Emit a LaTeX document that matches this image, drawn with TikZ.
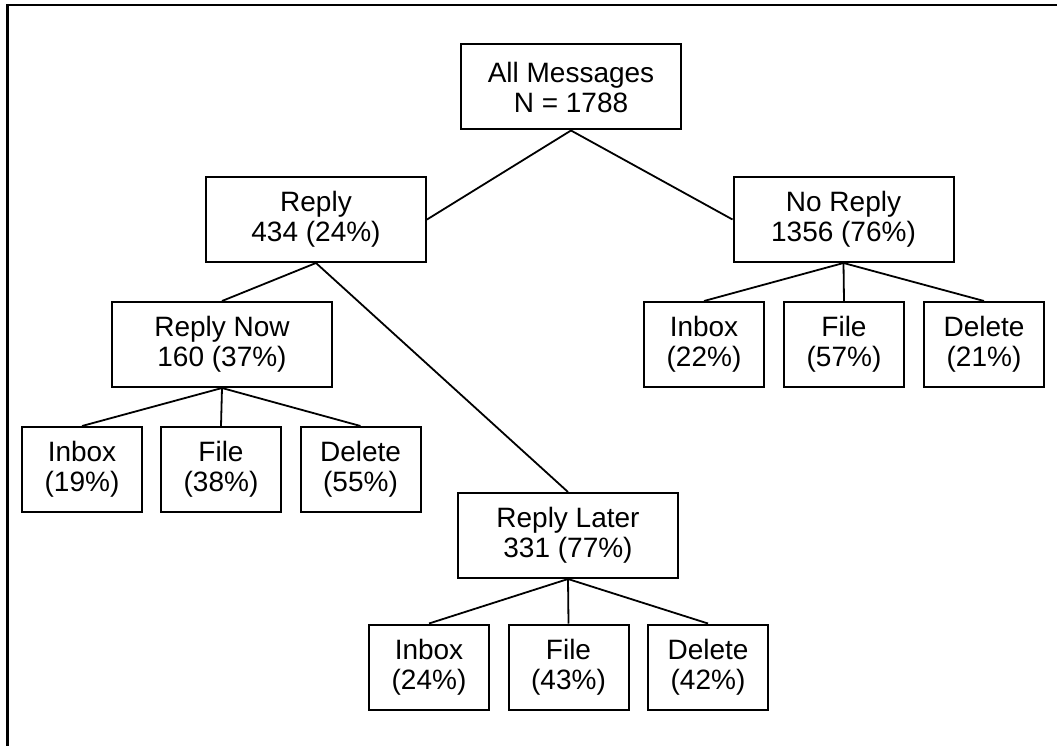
\documentclass[tikz,border=0pt]{standalone}
\usepackage{fontspec}
\setmainfont{Liberation Sans}
\begin{document}
\begin{tikzpicture}[x=1pt,y=-1pt,
  box/.style={draw=black, line width=2pt, inner sep=0pt, align=center,
    minimum height=85pt, font=\fontsize{28}{30}\selectfont},
  wide/.style={box, minimum width=220pt},
  narrow/.style={box, minimum width=120pt},
  link/.style={draw=black, line width=1.8pt}]
\useasboundingbox (0,0) rectangle (1057,746);
% frame along the top and left edges
\draw[line width=2.6pt] (7.5,746) -- (7.5,5) -- (1057,5);

\node[wide] (all) at (571,87) {All Messages\\N = 1788};
\node[wide] (reply) at (316,219.5) {Reply\\434 (24\%)};
\node[wide] (noreply) at (843.5,219.5) {No Reply\\1356 (76\%)};
\node[wide] (now) at (222,344.5) {Reply Now\\160 (37\%)};
\node[wide] (later) at (568,535.5) {Reply Later\\331 (77\%)};

\node[narrow] (nowinbox) at (82,469.5) {Inbox\\(19\%)};
\node[narrow] (nowfile) at (221,469.5) {File\\(38\%)};
\node[narrow] (nowdelete) at (360.5,469.5) {Delete\\(55\%)};

\node[narrow] (laterinbox) at (429,667) {Inbox\\(24\%)};
\node[narrow] (laterfile) at (568.5,667) {File\\(43\%)};
\node[narrow] (laterdelete) at (708,667) {Delete\\(42\%)};

\node[narrow] (noinbox) at (704,344.5) {Inbox\\(22\%)};
\node[narrow] (nofile) at (844,344.5) {File\\(57\%)};
\node[narrow] (nodelete) at (984,344.5) {Delete\\(21\%)};

\draw[link] (all.south) -- (reply.east);
\draw[link] (all.south) -- (noreply.west);
\draw[link] (reply.south) -- (now.north);
\draw[link] (reply.south) -- (later.north);
\draw[link] (now.south) -- (nowinbox.north);
\draw[link] (now.south) -- (nowfile.north);
\draw[link] (now.south) -- (nowdelete.north);
\draw[link] (later.south) -- (laterinbox.north);
\draw[link] (later.south) -- (laterfile.north);
\draw[link] (later.south) -- (laterdelete.north);
\draw[link] (noreply.south) -- (noinbox.north);
\draw[link] (noreply.south) -- (nofile.north);
\draw[link] (noreply.south) -- (nodelete.north);
\end{tikzpicture}
\end{document}
